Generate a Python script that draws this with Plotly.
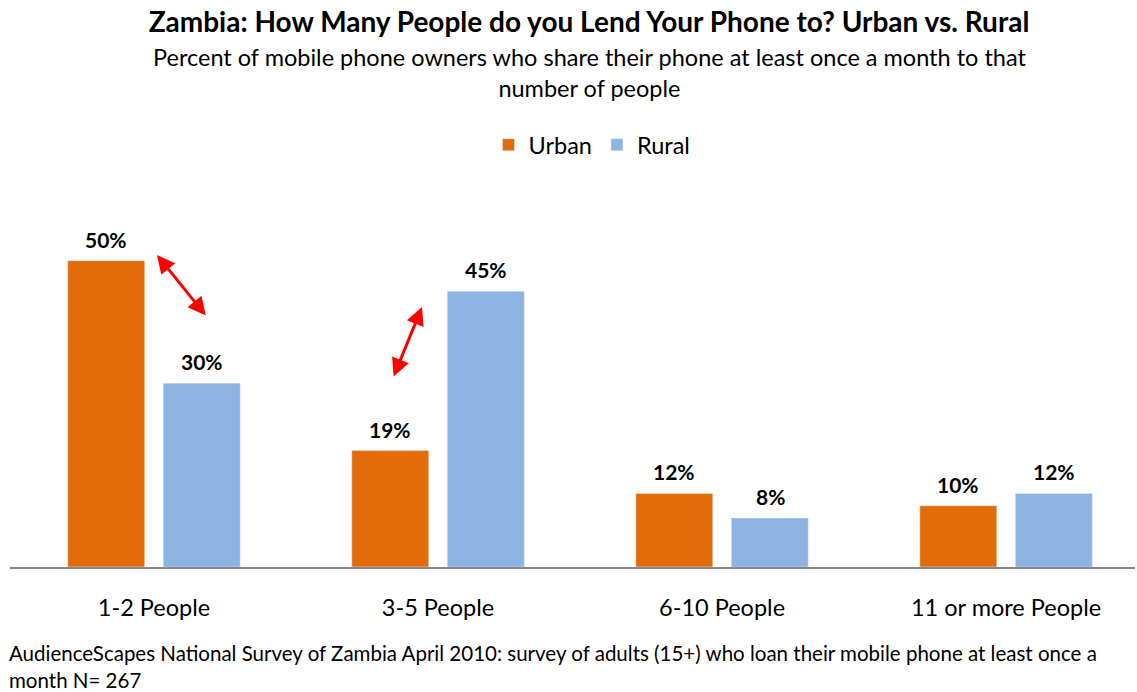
import plotly.graph_objects as go

# Survey results: share of phone owners lending their phone to N people
categories = ["1-2 People", "3-5 People", "6-10 People", "11 or more People"]
urban = [50, 19, 12, 10]
rural = [30, 45, 8, 12]

URBAN_COLOR = "#E36C0A"
RURAL_COLOR = "#8DB3E2"
FONT = "Lato"

fig = go.Figure()
fig.add_trace(go.Bar(name="Urban", x=categories, y=urban, marker_color=URBAN_COLOR))
fig.add_trace(go.Bar(name="Rural", x=categories, y=rural, marker_color=RURAL_COLOR))

W, H = 1137, 692
left, right, top, bottom = 10, 2, 230, 125
plot_w = W - left - right
plot_h = H - top - bottom


def px_to_paper(px, py):
    return (px - left) / plot_w, (H - bottom - py) / plot_h


# value labels above each bar (bars sit ~48px either side of category centre)
for vals, shift in ((urban, -48), (rural, 48)):
    for cat, v in zip(categories, vals):
        fig.add_annotation(
            x=cat, y=v, xref="x", yref="y", text=f"<b>{v}%</b>",
            showarrow=False, xshift=shift, yshift=7, yanchor="bottom",
            font=dict(family=FONT, size=21, color="#000000"),
        )

# red double-headed arrows highlighting the urban/rural gaps
for (hx, hy), (tx, ty) in (((157, 255), (207, 317)), ((422, 307), (393, 378))):
    x, y = px_to_paper(hx, hy)
    fig.add_annotation(
        x=x, y=y, xref="paper", yref="paper", ax=tx - hx, ay=ty - hy,
        text="", showarrow=True, arrowside="end+start", arrowhead=2,
        arrowsize=1.2, arrowwidth=3, arrowcolor="#FF0000",
    )

# subtitle
sx, sy = px_to_paper(589, 41)
fig.add_annotation(
    x=sx, y=sy, xref="paper", yref="paper",
    xanchor="center", yanchor="top", showarrow=False, align="center",
    text="Percent of mobile phone owners who share their phone at least once a month to that<br>number of people",
    font=dict(family=FONT, size=23.5, color="#000000"),
)

# source note
fx, fy = px_to_paper(8, 640)
fig.add_annotation(
    x=fx, y=fy, xref="paper", yref="paper",
    xanchor="left", yanchor="top", showarrow=False, align="left", borderpad=0,
    text="AudienceScapes National Survey of Zambia April 2010: survey of adults (15+) who loan their mobile phone at least once a<br>month N= 267",
    font=dict(family=FONT, size=20.5, color="#000000"),
)

fig.update_layout(
    width=W, height=H,
    margin=dict(l=left, r=right, t=top, b=bottom, pad=0),
    paper_bgcolor="white", plot_bgcolor="white",
    barmode="group", bargap=0.3275, bargroupgap=0.194,
    title=dict(
        text="<b>Zambia: How Many People do you Lend Your Phone to? Urban vs. Rural</b>",
        x=589 / W, xanchor="center", xref="container",
        y=1 - 22 / H, yanchor="middle", yref="container",
        font=dict(family=FONT, size=28, color="#000000"),
    ),
    legend=dict(
        orientation="h", xref="container", yref="container",
        x=592 / W, xanchor="center", y=1 - 145 / H, yanchor="middle",
        font=dict(family=FONT, size=23.5, color="#000000"),
        itemwidth=30, traceorder="normal",
    ),
    xaxis=dict(
        range=[-0.507, 3.454], showline=True, linecolor="#888888", linewidth=1.5,
        ticks="", showgrid=False, zeroline=False,
        tickfont=dict(family=FONT, size=23.5, color="#000000"),
        ticklabelstandoff=19,
    ),
    yaxis=dict(range=[0, 55], visible=False, showgrid=False, zeroline=False),
    showlegend=True,
)

fig.write_html("out.html")
